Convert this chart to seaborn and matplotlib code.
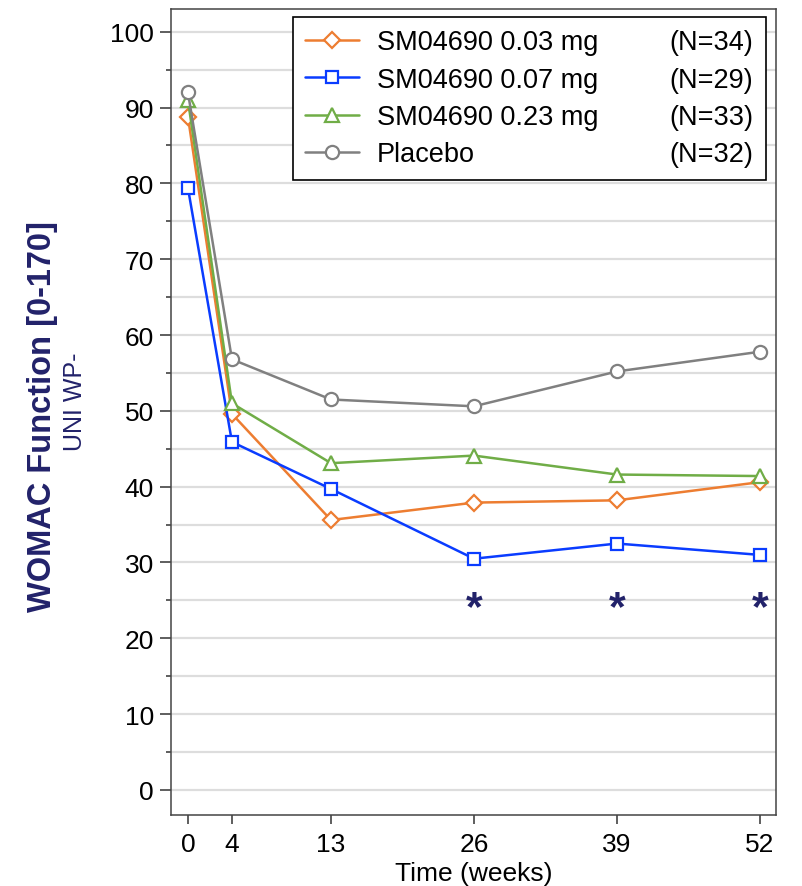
import matplotlib
matplotlib.use("Agg")
import pandas as pd
import matplotlib.pyplot as plt
from matplotlib.lines import Line2D
from matplotlib.ticker import MultipleLocator
from matplotlib.transforms import offset_copy
import seaborn as sns

# values
weeks = [0, 4, 13, 26, 39, 52]
groups = ["SM04690 0.03 mg", "SM04690 0.07 mg", "SM04690 0.23 mg", "Placebo"]
n_labels = ["(N=34)", "(N=29)", "(N=33)", "(N=32)"]
dose_003 = [88.8, 49.6, 35.6, 37.9, 38.2, 40.6]
dose_007 = [79.4, 45.9, 39.7, 30.5, 32.5, 31.0]
dose_023 = [91.0, 51.0, 43.1, 44.1, 41.6, 41.4]
placebo = [92.0, 56.8, 51.5, 50.6, 55.2, 57.8]
star_weeks = [26, 39, 52]
star_y = 25.2

colors = ["#ED7D31", "#0A3CFF", "#70AD47", "#808080"]
markers = ["D", "s", "^", "o"]
msizes = [8.5, 9, 10, 9.5]
navy = "#22226A"

sns.set_style("white")
plt.rcParams["font.family"] = ["Liberation Sans", "DejaVu Sans"]
plt.rcParams["text.color"] = "black"
plt.rcParams["xtick.color"] = "black"
plt.rcParams["ytick.color"] = "black"
plt.rcParams["axes.labelcolor"] = "black"

fig = plt.figure(figsize=(8.02, 8.87), dpi=100)
ax = fig.add_axes([0.2128, 0.0806, 0.9676 - 0.2128, 0.9887 - 0.0806])

# gridlines every 5 units, behind the data
for v in range(0, 101, 5):
    ax.axhline(v, color="#DDDDDD", lw=1.6, zorder=0)

series = [dose_003, dose_007, dose_023, placebo]
for name, vals, col, mk, ms in zip(groups, series, colors, markers, msizes):
    df = pd.DataFrame({"week": weeks, "value": vals})
    sns.lineplot(data=df, x="week", y="value", ax=ax, color=col, lw=1.8,
                 marker=mk, markersize=ms, markerfacecolor="white",
                 markeredgecolor=col, markeredgewidth=1.6, label=name,
                 legend=False, zorder=3)

# significance markers
star_tr = offset_copy(ax.transData, fig=fig, x=0, y=-9, units="dots")
for w in star_weeks:
    ax.text(w, star_y, "*", ha="center", va="center", fontsize=31,
            fontweight="bold", color=navy, transform=star_tr)

ax.set_xlim(-1.57, 53.45)
ax.set_ylim(-3.24, 103.0)
ax.set_xticks(weeks)
ax.yaxis.set_major_locator(MultipleLocator(10))
ax.yaxis.set_minor_locator(MultipleLocator(5))
ax.tick_params(axis="y", which="major", length=8, width=1.1, color="#333333",
               labelsize=19, pad=4, left=True)
ax.tick_params(axis="y", which="minor", length=3.6, width=1.1, color="#333333", left=True)
ax.tick_params(axis="x", length=6.5, width=1.1, color="#333333", labelsize=19,
               pad=6, bottom=True)
for s in ax.spines.values():
    s.set_color("#444444")
    s.set_linewidth(1.1)

ax.set_xlabel("Time (weeks)", fontsize=19, labelpad=4)
ax.set_ylabel("")

# legend: group names in first column, N counts in second
handles = [l for l in ax.get_lines() if l.get_label() in groups]
blanks = [Line2D([], [], linestyle="none") for _ in n_labels]
leg = ax.legend(handles + blanks, groups + n_labels, ncol=2, loc="upper right",
                bbox_to_anchor=(0.9835, 0.990), fontsize=19.5, frameon=True,
                fancybox=False, framealpha=1, edgecolor="black",
                handlelength=2.0, handletextpad=0.65, columnspacing=0.0,
                labelspacing=0.42, borderpad=0.45, borderaxespad=0)
leg.get_frame().set_linewidth(1.2)

fig.text(0.0524, 0.5299, "WOMAC Function [0-170]", rotation=90, ha="center",
         va="center", fontsize=23.5, fontweight="bold", color=navy)
fig.text(0.094, 0.5468, "UNI WP-", rotation=90, ha="center", va="center",
         fontsize=18, color=navy)

fig.savefig("out.png", dpi=100)
